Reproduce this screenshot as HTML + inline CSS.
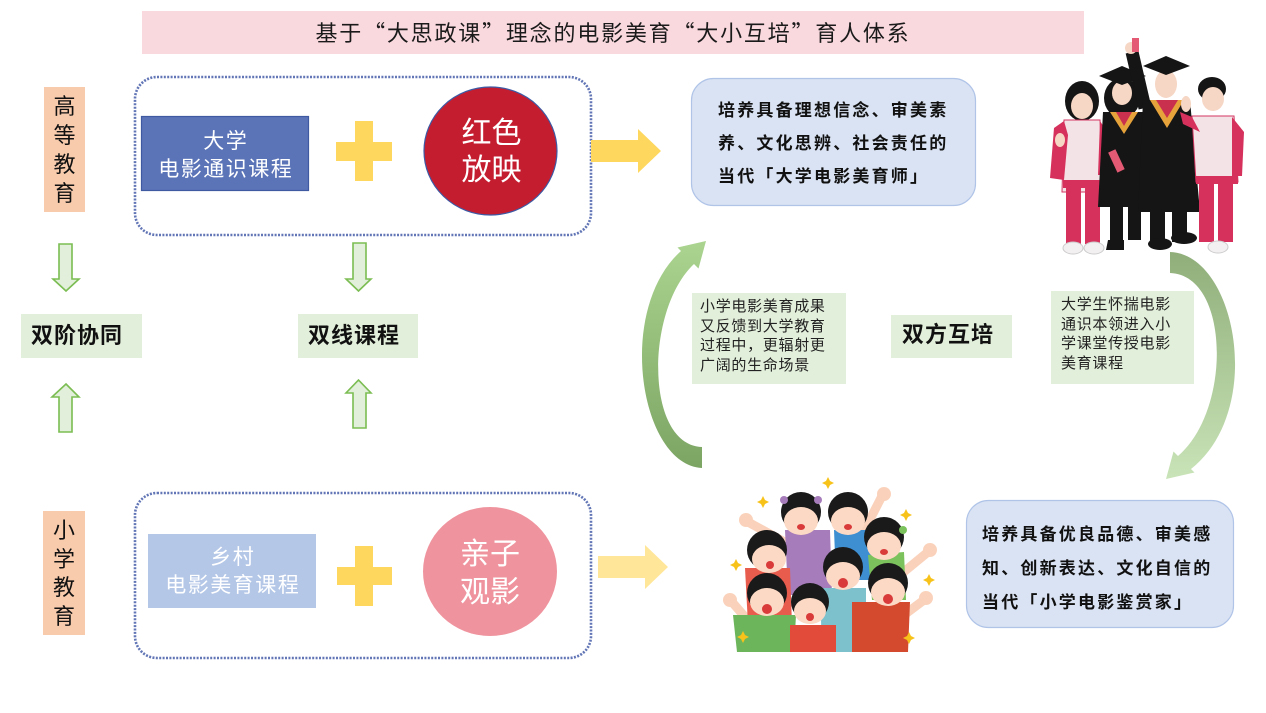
<!DOCTYPE html>
<html><head><meta charset="utf-8">
<style>
html,body{margin:0;padding:0;background:#fff;}
body{width:1266px;height:713px;position:relative;overflow:hidden;font-family:"Liberation Sans","Noto Sans CJK SC",sans-serif;}
.a{position:absolute;box-sizing:border-box;}
.cjk{font-family:"Noto Sans CJK SC","Liberation Sans",sans-serif;}
</style></head><body>
<svg class="a" style="left:0;top:0" width="1266" height="713" viewBox="0 0 1266 713">
<defs>
<linearGradient id="gl" x1="0" y1="0" x2="0" y2="1">
<stop offset="0" stop-color="#aad48f"/><stop offset="1" stop-color="#7ca463"/></linearGradient>
<linearGradient id="gr" x1="0" y1="0" x2="0" y2="1">
<stop offset="0" stop-color="#c9e4b8"/><stop offset="1" stop-color="#8fae79"/></linearGradient>
</defs>
<!-- title bar -->
<rect x="142" y="11" width="942" height="43" fill="#f9d8de"/>
<!-- left label boxes -->
<rect x="44" y="87" width="41" height="125" fill="#f8cbad"/>
<rect x="43" y="511" width="42" height="124" fill="#f8cbad"/>
<!-- dotted boxes -->
<rect x="135" y="77" width="456" height="158" rx="22" fill="none" stroke="#6276b6" stroke-width="2.6" stroke-dasharray="2 1.4"/>
<rect x="135" y="493" width="456" height="165" rx="22" fill="none" stroke="#6276b6" stroke-width="2.6" stroke-dasharray="2 1.4"/>
<!-- top blue rect -->
<rect x="141.5" y="116.5" width="167" height="74" fill="#5b74b8" stroke="#3f5aa0" stroke-width="1.2"/>
<!-- plus top -->
<rect x="336" y="142" width="56" height="19" fill="#fdd75e"/>
<rect x="355" y="121" width="18" height="60" fill="#fdd75e"/>
<!-- red circle -->
<ellipse cx="490.5" cy="151" rx="66.5" ry="64" fill="#c51d30" stroke="#3c5aa5" stroke-width="1.2"/>
<!-- top yellow arrow -->
<polygon points="591,140 638,140 638,129 661,151 638,173 638,162 591,162" fill="#fdd75e"/>
<!-- bottom light blue rect -->
<rect x="148" y="534" width="168" height="74" fill="#b4c7e7"/>
<!-- plus bottom -->
<rect x="337" y="567" width="55" height="18" fill="#fdd75e"/>
<rect x="355" y="546" width="18" height="60" fill="#fdd75e"/>
<!-- pink ellipse -->
<ellipse cx="490" cy="571.5" rx="67" ry="64.5" fill="#ef949e"/>
<!-- bottom yellow arrow -->
<polygon points="598,556 645,556 645,545 668,567 645,589 645,578 598,578" fill="#ffe699"/>
<!-- right boxes -->
<rect x="691.5" y="78.5" width="284" height="127" rx="22" fill="#dae3f3" stroke="#b0c4e8" stroke-width="1.2"/>
<rect x="966.5" y="500.5" width="267" height="127" rx="22" fill="#dae3f3" stroke="#b0c4e8" stroke-width="1.2"/>
<!-- green boxes -->
<rect x="21" y="314" width="121" height="44" fill="#e2efda"/>
<rect x="298" y="314" width="120" height="44" fill="#e2efda"/>
<rect x="891" y="315" width="121" height="43" fill="#e2efda"/>
<rect x="692" y="293" width="154" height="91" fill="#e2efda"/>
<rect x="1051" y="291" width="143" height="93" fill="#e2efda"/>
<!-- green block arrows -->
<g fill="#e2efda" stroke="#7bbd52" stroke-width="1.6" stroke-linejoin="miter">
<polygon points="59,244 72,244 72,279 79,279 66,291 53,279 59,279"/>
<polygon points="66,384 79,397 72,397 72,432 59,432 59,397 52,397"/>
<polygon points="353,243 366,243 366,279 371,279 358.5,291 346,279 353,279"/>
<polygon points="358.5,380 371,393 366,393 366,428 353,428 353,393 346,393"/>
</g>
<!-- curved arrows -->
<path d="M702,468 C640,465 615,310 681,251 L677.5,247.5 L706,241 L698.5,268.5 L694,264 C645,310 645,445 702,447 Z" fill="url(#gl)"/>
<g transform="translate(1872,720) scale(-1,-1)">
<path d="M702,468 C636,466 606,310 681,251 L677.5,247.5 L706,241 L698.5,268.5 L694,264 C640,310 642,445 702,447 Z" fill="url(#gr)"/>
</g>

<!-- graduates illustration -->
<g>
 <!-- left girl -->
 <ellipse cx="1082" cy="101" rx="17" ry="20" fill="#151515"/>
 <ellipse cx="1082" cy="106" rx="11" ry="13" fill="#f6d6c4"/>
 <path d="M1064,120 L1100,120 L1103,192 L1062,192 Z" fill="#f4e3e6" stroke="#d33560" stroke-width="1"/>
 <path d="M1064,121 L1054,128 L1050,178 L1064,180 L1068,135 Z" fill="#d6315c"/>
 <path d="M1100,121 L1106,130 L1104,175 L1098,175 Z" fill="#d6315c"/>
 <rect x="1063" y="180" width="40" height="8" fill="#d6315c"/>
 <rect x="1066" y="188" width="15" height="56" fill="#d6315c"/>
 <rect x="1085" y="188" width="15" height="56" fill="#d6315c"/>
 <ellipse cx="1073" cy="248" rx="10" ry="6" fill="#f3f0f2" stroke="#ccc" stroke-width="1"/>
 <ellipse cx="1094" cy="248" rx="10" ry="6" fill="#f3f0f2" stroke="#ccc" stroke-width="1"/>
 <ellipse cx="1060" cy="140" rx="5" ry="7" fill="#f6d6c4"/>
 <!-- grad woman -->
 <ellipse cx="1122" cy="98" rx="18" ry="20" fill="#151515"/>
 <path d="M1103,112 L1148,112 L1160,207 L1098,207 Z" fill="#151515"/>
 <polygon points="1110,112 1138,112 1124,134" fill="#e7a33b"/>
 <polygon points="1116,112 1132,112 1124,126" fill="#c9304e"/>
 <ellipse cx="1122" cy="93" rx="10" ry="12" fill="#f6d6c4"/>
 <polygon points="1099,76 1122,66 1146,76 1122,85" fill="#151515"/>
 <rect x="1110" y="204" width="13" height="36" fill="#151515"/>
 <rect x="1128" y="204" width="13" height="36" fill="#151515"/>
 <path d="M1108,240 L1124,240 L1124,250 L1106,250 Z" fill="#151515"/>
 <rect x="1112" y="150" width="8" height="22" fill="#e45a75" transform="rotate(-25 1116 160)"/>
 <!-- grad man -->
 <path d="M1145,108 L1132,52" stroke="#151515" stroke-width="13"/>
 <circle cx="1131" cy="48" r="6" fill="#f6d6c4"/>
 <rect x="1132" y="38" width="7" height="14" fill="#e45a75"/>
 <path d="M1143,100 L1190,100 L1200,212 L1138,212 Z" fill="#151515"/>
 <polygon points="1150,100 1184,100 1167,128" fill="#e7a33b"/>
 <polygon points="1156,100 1178,100 1167,118" fill="#c9304e"/>
 <ellipse cx="1166" cy="84" rx="11" ry="14" fill="#f6d6c4"/>
 <polygon points="1143,66 1166,56 1190,66 1166,75" fill="#151515"/>
 <rect x="1150" y="210" width="15" height="32" fill="#151515"/>
 <rect x="1172" y="210" width="15" height="32" fill="#151515"/>
 <ellipse cx="1160" cy="244" rx="12" ry="6" fill="#151515"/>
 <ellipse cx="1184" cy="238" rx="13" ry="6" fill="#151515"/>
 <!-- right boy -->
 <ellipse cx="1212" cy="89" rx="14" ry="12" fill="#151515"/>
 <ellipse cx="1213" cy="99" rx="11" ry="12" fill="#f6d6c4"/>
 <path d="M1192,116 L1234,116 L1238,182 L1196,182 Z" fill="#f4e3e6" stroke="#d33560" stroke-width="1"/>
 <path d="M1192,117 L1180,112 L1183,124 L1200,132 Z" fill="#d6315c"/>
 <path d="M1232,117 L1244,132 L1242,176 L1232,176 Z" fill="#d6315c"/>
 <ellipse cx="1186" cy="104" rx="5" ry="8" fill="#f6d6c4"/>
 <rect x="1196" y="176" width="42" height="8" fill="#d6315c"/>
 <rect x="1199" y="184" width="15" height="58" fill="#d6315c"/>
 <rect x="1218" y="184" width="15" height="58" fill="#d6315c"/>
 <ellipse cx="1218" cy="247" rx="10" ry="6" fill="#f3f0f2" stroke="#ccc" stroke-width="1"/>
</g>

<!-- kids illustration -->
<g>
 <!-- raised arms -->
 <g stroke="#fad2bb" stroke-width="9" stroke-linecap="round">
  <line x1="790" y1="545" x2="748" y2="522"/>
  <line x1="862" y1="535" x2="882" y2="496"/>
  <line x1="900" y1="575" x2="928" y2="552"/>
  <line x1="752" y1="625" x2="732" y2="602"/>
  <line x1="900" y1="618" x2="924" y2="600"/>
  <line x1="818" y1="600" x2="808" y2="582"/>
 </g>
 <circle cx="746" cy="520" r="7" fill="#fad2bb"/>
 <circle cx="884" cy="494" r="7" fill="#fad2bb"/>
 <circle cx="930" cy="550" r="7" fill="#fad2bb"/>
 <circle cx="730" cy="600" r="7" fill="#fad2bb"/>
 <circle cx="926" cy="598" r="7" fill="#fad2bb"/>
 <!-- bodies -->
 <path d="M785,530 L830,530 L832,595 L788,595 Z" fill="#a67cba"/>
 <path d="M834,530 L872,530 L870,580 L836,580 Z" fill="#3e8fd2"/>
 <path d="M868,555 L904,552 L906,600 L872,600 Z" fill="#7cc25c"/>
 <path d="M745,568 L790,568 L792,625 L748,625 Z" fill="#e85c4e"/>
 <path d="M820,588 L866,588 L866,652 L822,652 Z" fill="#7dc1cd"/>
 <path d="M852,602 L910,602 L908,652 L852,652 Z" fill="#d44a2f"/>
 <path d="M733,615 L796,615 L794,652 L737,652 Z" fill="#6cb55a"/>
 <path d="M790,625 L836,625 L836,652 L790,652 Z" fill="#e24b3a"/>
 <!-- faces: hair then skin -->
 <g>
  <circle cx="801" cy="512" r="20" fill="#1a1a1a"/><ellipse cx="801" cy="521" rx="17" ry="14" fill="#fcd9c4"/>
  <circle cx="848" cy="512" r="20" fill="#1a1a1a"/><ellipse cx="848" cy="521" rx="17" ry="14" fill="#fcd9c4"/>
  <circle cx="767" cy="550" r="20" fill="#1a1a1a"/><ellipse cx="769" cy="559" rx="17" ry="14" fill="#fcd9c4"/>
  <circle cx="884" cy="537" r="20" fill="#1a1a1a"/><ellipse cx="884" cy="546" rx="17" ry="14" fill="#fcd9c4"/>
  <circle cx="843" cy="567" r="20" fill="#1a1a1a"/><ellipse cx="843" cy="576" rx="17" ry="14" fill="#fcd9c4"/>
  <circle cx="767" cy="593" r="20" fill="#1a1a1a"/><ellipse cx="767" cy="602" rx="17" ry="14" fill="#fcd9c4"/>
  <circle cx="810" cy="602" r="19" fill="#1a1a1a"/><ellipse cx="810" cy="611" rx="16" ry="13" fill="#fcd9c4"/>
  <circle cx="888" cy="583" r="20" fill="#1a1a1a"/><ellipse cx="888" cy="592" rx="17" ry="14" fill="#fcd9c4"/>
 </g>
 <g fill="#d93a3a">
  <ellipse cx="801" cy="527" rx="4" ry="3"/><ellipse cx="848" cy="527" rx="4" ry="3"/>
  <ellipse cx="770" cy="565" rx="4" ry="4"/><ellipse cx="884" cy="552" rx="4" ry="3"/>
  <ellipse cx="843" cy="583" rx="5" ry="5"/><ellipse cx="767" cy="609" rx="5" ry="5"/>
  <ellipse cx="810" cy="617" rx="4" ry="4"/><ellipse cx="888" cy="599" rx="5" ry="5"/>
 </g>
 <circle cx="784" cy="500" r="4" fill="#a67cba"/><circle cx="818" cy="500" r="4" fill="#a67cba"/>
 <circle cx="903" cy="530" r="4" fill="#7cc25c"/>
 <!-- stars -->
 <g fill="#f7c21a">
  <path d="M828,477 L830,481 L834,483 L830,485 L828,489 L826,485 L822,483 L826,481 Z"/>
  <path d="M763,496 L765,500 L769,502 L765,504 L763,508 L761,504 L757,502 L761,500 Z"/>
  <path d="M906,509 L908,513 L912,515 L908,517 L906,521 L904,517 L900,515 L904,513 Z"/>
  <path d="M736,559 L738,563 L742,565 L738,567 L736,571 L734,567 L730,565 L734,563 Z"/>
  <path d="M929,574 L931,578 L935,580 L931,582 L929,586 L927,582 L923,580 L927,578 Z"/>
  <path d="M743,631 L745,635 L749,637 L745,639 L743,643 L741,639 L737,637 L741,635 Z"/>
  <path d="M909,632 L911,636 L915,638 L911,640 L909,644 L907,640 L903,638 L907,636 Z"/>
 </g>
</g>
</svg>

<!-- title -->
<div class="a cjk" style="left:142px;top:11px;width:942px;height:43px;line-height:43px;text-align:center;font-size:22px;letter-spacing:1.8px;color:#1a1a1a;font-feature-settings:'fwid' 1;padding-right:0px;">基于“大思政课”理念的电影美育“大小互培”育人体系</div>

<!-- vertical labels -->
<div class="a" style="left:44px;top:87px;width:41px;padding-top:5px;text-align:center;font-size:22px;line-height:29px;color:#111;">高<br>等<br>教<br>育</div>
<div class="a" style="left:43px;top:511px;width:42px;padding-top:6px;text-align:center;font-size:22px;line-height:28.5px;color:#111;">小<br>学<br>教<br>育</div>

<!-- top blue rect text -->
<div class="a" style="left:141px;top:128px;width:168px;text-align:center;font-size:21px;line-height:28px;color:#fff;letter-spacing:1.5px;padding-left:1.5px;">大学<br>电影通识课程</div>
<!-- red circle text -->
<div class="a" style="left:424px;top:115px;width:134px;text-align:center;font-size:30px;line-height:37px;color:#fff;padding-left:1px;">红色<br>放映</div>
<!-- bottom light blue rect text -->
<div class="a" style="left:148px;top:544px;width:168px;text-align:center;font-size:21px;line-height:28px;color:#fff;letter-spacing:1.5px;padding-left:1.5px;">乡村<br>电影美育课程</div>
<!-- pink ellipse text -->
<div class="a" style="left:423px;top:536px;width:134px;text-align:center;font-size:30px;line-height:38px;color:#fff;">亲子<br>观影</div>

<!-- green labels -->
<div class="a" style="left:21px;top:314px;width:121px;height:44px;line-height:44px;padding-left:10px;font-size:22px;font-weight:bold;color:#111;letter-spacing:1px;">双阶协同</div>
<div class="a" style="left:298px;top:314px;width:120px;height:44px;line-height:44px;padding-left:10px;font-size:22px;font-weight:bold;color:#111;letter-spacing:1px;">双线课程</div>
<div class="a" style="left:891px;top:315px;width:121px;height:43px;line-height:40px;padding-left:11px;font-size:22px;font-weight:bold;color:#111;letter-spacing:1px;">双方互培</div>

<!-- small green text boxes -->
<div class="a" style="left:700px;top:297px;width:150px;font-size:15px;line-height:19.5px;letter-spacing:0.7px;color:#222;">小学电影美育成果<br>又反馈到大学教育<br>过程中，更辐射更<br>广阔的生命场景</div>
<div class="a" style="left:1061px;top:295px;width:135px;font-size:15px;line-height:19.5px;letter-spacing:0.7px;color:#222;">大学生怀揣电影<br>通识本领进入小<br>学课堂传授电影<br>美育课程</div>

<!-- blue box text -->
<div class="a" style="left:718px;top:93.5px;width:260px;font-size:17px;line-height:33px;font-weight:bold;letter-spacing:2.2px;color:#111;">培养具备理想信念、审美素<br>养、文化思辨、社会责任的<br>当代「大学电影美育师」</div>
<div class="a" style="left:982px;top:518px;width:260px;font-size:17px;line-height:34px;font-weight:bold;letter-spacing:2.2px;color:#111;">培养具备优良品德、审美感<br>知、创新表达、文化自信的<br>当代「小学电影鉴赏家」</div>
</body></html>
